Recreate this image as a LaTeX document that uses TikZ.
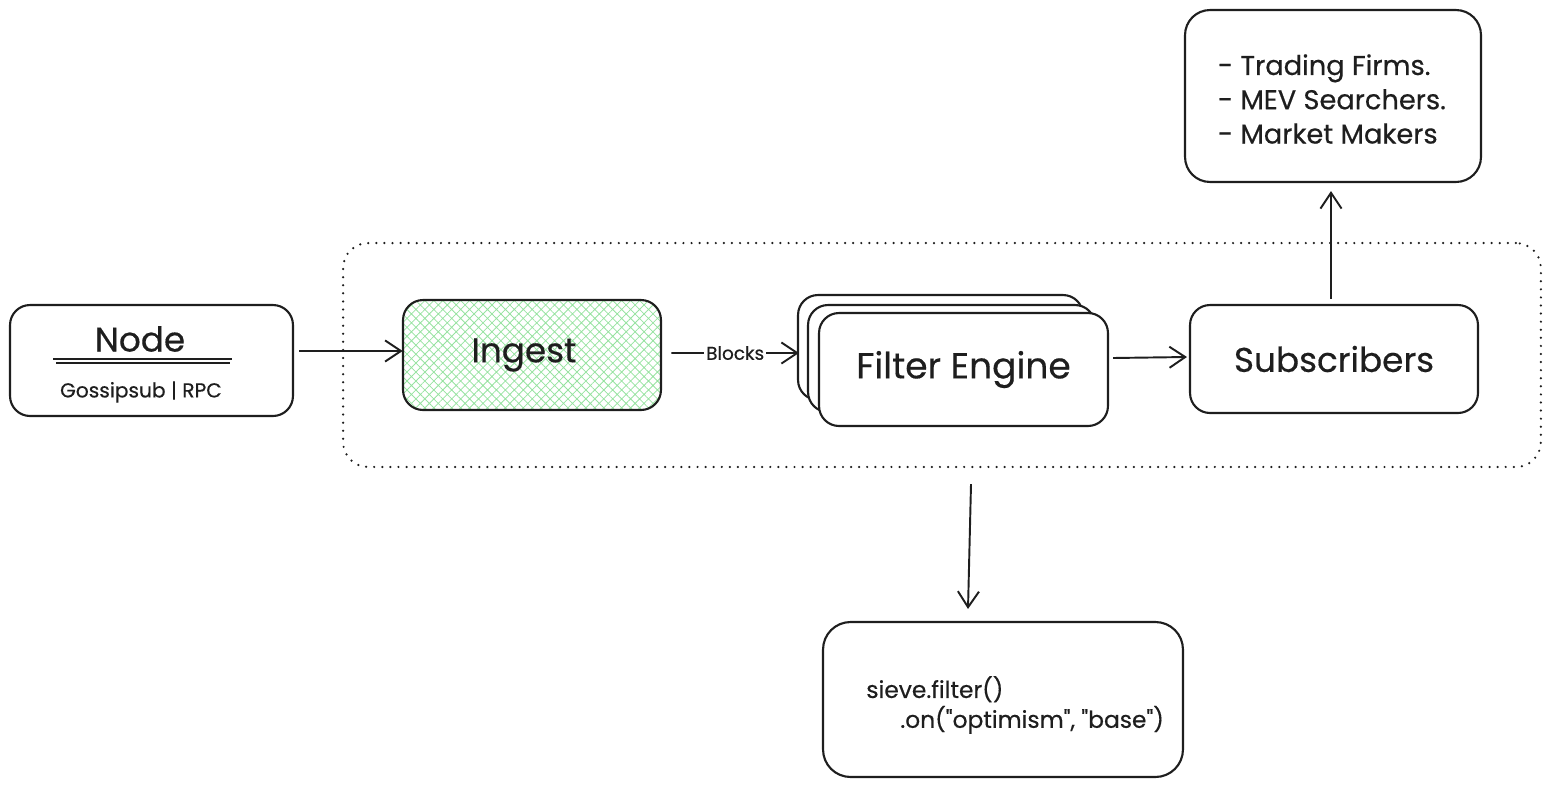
\documentclass[tikz,border=0pt]{standalone}
\usepackage{fontspec}
\newfontfamily\hand{Poppins}[FakeBold=0.4]
\usetikzlibrary{arrows.meta,calc,patterns.meta}
\definecolor{ink}{RGB}{30,30,30}
\definecolor{hatchgreen}{RGB}{150,226,160}
\begin{document}
\begin{tikzpicture}[x=0.02cm,y=-0.02cm,
  box/.style={draw=ink,line width=1.2pt,rounded corners=0.4cm,inner sep=0pt,fill=white},
  big/.style={font=\hand\fontsize{19.5}{23}\selectfont,text=ink},
  small/.style={font=\hand\fontsize{10.5}{12}\selectfont,text=ink},
  arr/.style={draw=ink,line width=1.1pt,-{Straight Barb[length=9pt,width=12pt,line width=1.1pt]}}]
\useasboundingbox (0,0) rectangle (1551,788);
% container
\node[draw=ink,line width=1.4pt,dash pattern=on 0pt off 4.6pt,line cap=round,rounded corners=0.5cm,
      minimum width=23.96cm,minimum height=4.48cm] (group) at (942,355) {};
% source node
\node[box,minimum width=5.66cm,minimum height=2.22cm] (src) at (151.5,360.5) {};
\node[big] (srctitle) at (140,339) {Node};
\draw[ink,line width=0.9pt] (53,359) -- (232,359);
\draw[ink,line width=0.9pt] (56,363) -- (230,363);
\node[font=\hand\fontsize{11.5}{13}\selectfont,text=ink] (srcsub) at (141,392) {Gossipsub | RPC};
% ingest
\node[box,pattern={Hatch[angle=45,distance=3.6pt,line width=0.45pt]},pattern color=hatchgreen,
      minimum width=5.16cm,minimum height=2.2cm] (ingest) at (532,355) {};
\node[big] (ingesttext) at (524,355) {Ingest};
% filter engine stack
\node[box,minimum width=5.7cm,minimum height=2.1cm] (fback) at (940.5,347.5) {};
\node[box,minimum width=5.74cm,minimum height=2.14cm] (fmid) at (951.5,358.5) {};
\node[box,minimum width=5.78cm,minimum height=2.26cm,font=\hand\fontsize{20.5}{24}\selectfont,text=ink] (ffront) at (963.5,369.5) {Filter Engine};
% subscribers
\node[box,minimum width=5.76cm,minimum height=2.16cm,big] (subs) at (1334,359) {Subscribers};
% users
\node[box,rounded corners=0.5cm,minimum width=5.92cm,minimum height=3.44cm] (users) at (1333,96) {};
\node[align=left,font=\hand\fontsize{15.5}{19.5}\selectfont,text=ink] (userstext) at (1332,99)
      {- Trading Firms.\\- MEV Searchers.\\- Market Makers};
% code
\node[box,rounded corners=0.55cm,minimum width=7.2cm,minimum height=3.1cm] (code) at (1003,699.5) {};
\node[anchor=west,align=left,font=\hand\fontsize{13.3}{17}\selectfont,text=ink,inner sep=0pt] (codetext) at (866,705)
      {sieve.filter()\\\hspace*{0.68cm}.on("optimism", "base")};
% connectors
\draw[arr] ($(src.east)+(5,-9.5)$) -- ($(ingest.west)+(0,-4)$);
\draw[arr] ($(ingest.east)+(10,-2)$) -- node[fill=white,inner sep=1pt,small] (blk) {Blocks} ($(fback.west)+(2,5.5)$);
\draw[arr] ($(ffront.east)+(4,-11.5)$) -- ($(subs.west)+(-2,-2)$);
\draw[arr] ($(subs.north)+(-3,-5)$) -- ($(users.south)+(-2,8)$);
\draw[arr] ($(group.south)+(29,16)$) -- ($(code.north)+(-35,-12)$);
\end{tikzpicture}
\end{document}
